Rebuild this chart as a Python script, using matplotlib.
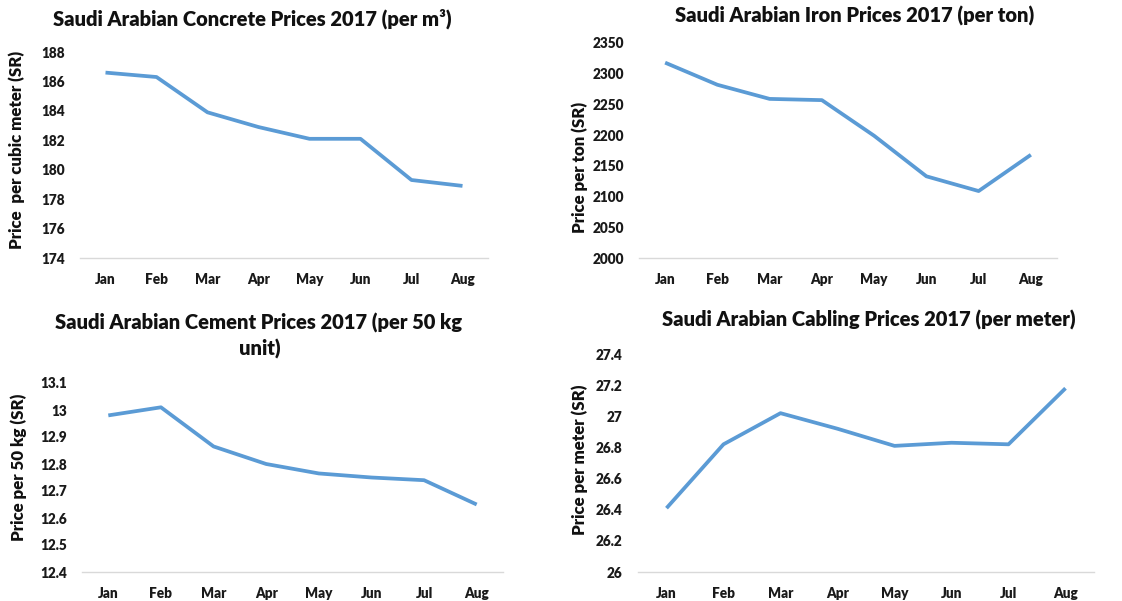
import matplotlib
matplotlib.use("Agg")
import matplotlib.pyplot as plt

plt.rcParams['font.family'] = ['Lato', 'DejaVu Sans']

months = ["Jan", "Feb", "Mar", "Apr", "May", "Jun", "Jul", "Aug"]
concrete = [186.6, 186.3, 183.9, 182.9, 182.1, 182.1, 179.3, 178.9]
iron = [2318, 2282, 2259, 2257, 2199, 2133, 2109, 2168]
cement = [12.98, 13.01, 12.865, 12.80, 12.765, 12.75, 12.74, 12.65]
cabling = [26.41, 26.82, 27.02, 26.92, 26.81, 26.83, 26.82, 27.18]

concrete_ticks = [174, 176, 178, 180, 182, 184, 186, 188]
iron_ticks = [2000, 2050, 2100, 2150, 2200, 2250, 2300, 2350]
cement_ticks = [12.4, 12.5, 12.6, 12.7, 12.8, 12.9, 13.0, 13.1]
cement_labels = ["12.4", "12.5", "12.6", "12.7", "12.8", "12.9", "13", "13.1"]
cabling_ticks = [26.0, 26.2, 26.4, 26.6, 26.8, 27.0, 27.2, 27.4]
cabling_labels = ["26", "26.2", "26.4", "26.6", "26.8", "27", "27.2", "27.4"]

W, H = 1122, 601
fig = plt.figure(figsize=(W / 100, H / 100), dpi=100)

LINE = "#5B9BD5"
AXC = "#D9D9D9"


def make_ax(left, right, top, bottom):
    return fig.add_axes([left / W, 1 - bottom / H, (right - left) / W, (bottom - top) / H])


def style(ax, values, ticks, labels):
    ax.plot(range(len(months)), values, color=LINE, lw=2.7, solid_capstyle='butt', solid_joinstyle='round')
    ax.set_xlim(-0.5, len(months) - 0.5)
    ax.set_ylim(ticks[0], ticks[-1])
    ax.set_yticks(ticks)
    ax.set_yticklabels(labels if labels else [str(t) for t in ticks])
    ax.set_xticks(range(len(months)))
    ax.set_xticklabels(months)
    for s in ["top", "right", "left"]:
        ax.spines[s].set_visible(False)
    ax.spines["bottom"].set_color(AXC)
    ax.spines["bottom"].set_linewidth(1.0)
    ax.tick_params(axis='both', length=0, labelsize=9.8, colors="#1a1a1a")
    ax.tick_params(axis='y', pad=11)
    ax.tick_params(axis='x', pad=11)
    for lab in ax.get_xticklabels() + ax.get_yticklabels():
        lab.set_fontweight('heavy')
    ax.patch.set_alpha(0)


ax1 = make_ax(80, 488, 52, 258)
style(ax1, concrete, concrete_ticks, None)
ax2 = make_ax(639, 1057, 43, 258)
style(ax2, iron, iron_ticks, None)
ax3 = make_ax(82, 503, 383, 572)
style(ax3, cement, cement_ticks, cement_labels)
ax4 = make_ax(638, 1094, 354, 572)
style(ax4, cabling, cabling_ticks, cabling_labels)

tkw = dict(fontsize=14.5, fontweight='heavy', ha='center', va='center', color='#111111')
fig.text(252 / W, 1 - 19 / H, "Saudi Arabian Concrete Prices 2017 (per m³)", **tkw)
fig.text(855 / W, 1 - 16 / H, "Saudi Arabian Iron Prices 2017 (per ton)", **tkw)
fig.text(259 / W, 1 - 323 / H, "Saudi Arabian Cement Prices 2017 (per 50 kg", **tkw)
fig.text(260 / W, 1 - 349 / H, "unit)", **tkw)
fig.text(869 / W, 1 - 320 / H, "Saudi Arabian Cabling Prices 2017 (per meter)", **tkw)

ykw = dict(fontsize=12.2, fontweight='heavy', ha='center', va='center', rotation=90, color='#111111')
fig.text(17 / W, 1 - 150 / H, "Price  per cubic meter (SR)", **ykw)
fig.text(580 / W, 1 - 167 / H, "Price per ton (SR)", **ykw)
fig.text(19 / W, 1 - 467 / H, "Price per 50 kg (SR)", **ykw)
fig.text(580 / W, 1 - 460 / H, "Price per meter (SR)", **ykw)

fig.savefig("out.png", dpi=100, facecolor="white")
